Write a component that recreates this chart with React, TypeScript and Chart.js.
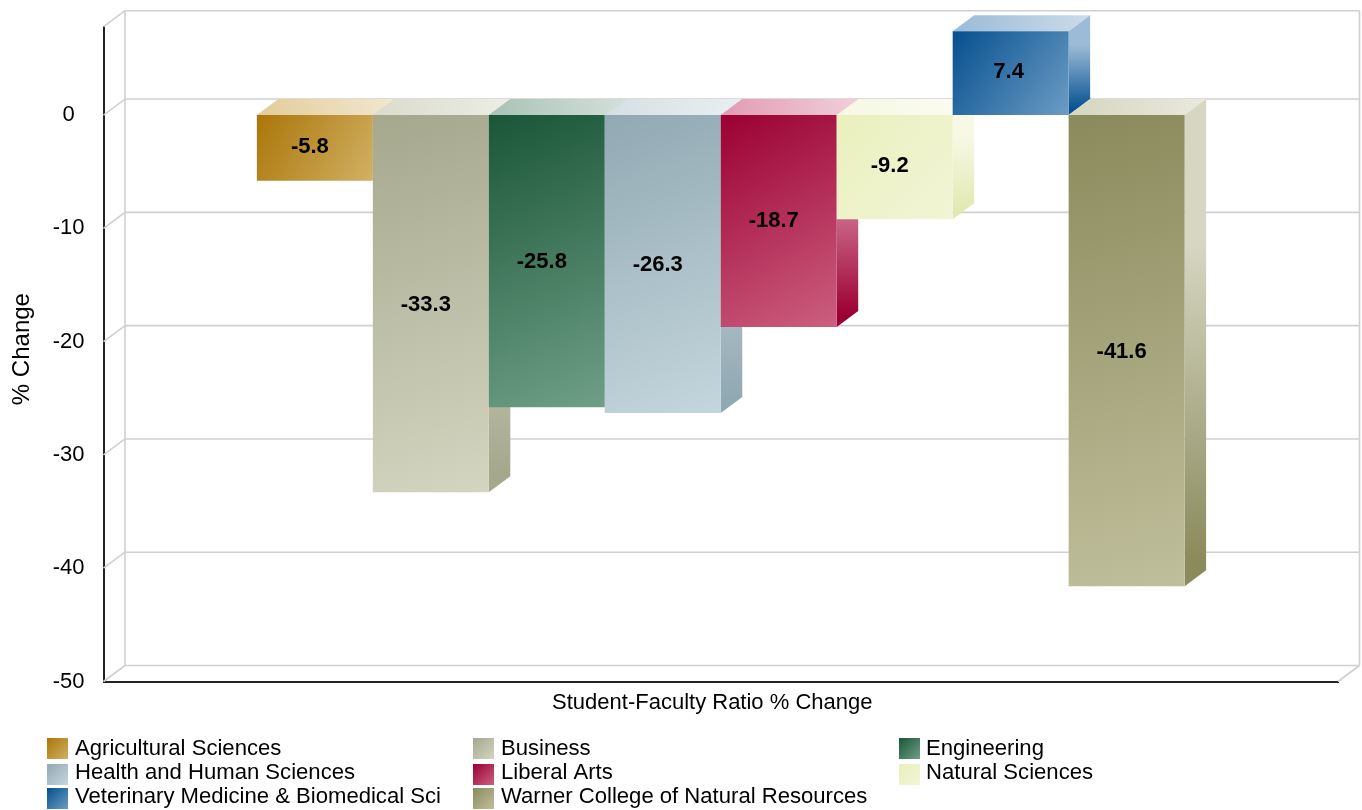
import React, { useEffect, useRef } from "react";
import { Chart, registerables } from "chart.js";

Chart.register(...registerables);

const categories = ["Student-Faculty Ratio % Change"];
const colleges = [
  "Agricultural Sciences",
  "Business",
  "Engineering",
  "Health and Human Sciences",
  "Liberal Arts",
  "Natural Sciences",
  "Veterinary Medicine & Biomedical Sci",
  "Warner College of Natural Resources",
];
const changes = [-5.8, -33.3, -25.8, -26.3, -18.7, -9.2, 7.4, -41.6];
const yTicks = [0, -10, -20, -30, -40, -50];
const xTitle = "Student-Faculty Ratio % Change";
const yTitle = "% Change";

// front-face gradient: start, end
const frontStart = ["#aa7609", "#a5a88d", "#1a5637", "#91a9b3", "#9b0033", "#e9f0bd", "#05508f", "#8a8a5c"];
const frontEnd = ["#d2b064", "#d3d5c0", "#6f9f87", "#c4d6dd", "#cc5f80", "#f2f5d6", "#6c9cc4", "#c0bf9c"];
// top-face gradient: start, end
const topStart = ["#e3cc99", "#dbdccd", "#a9c2b6", "#d5dfe3", "#e29ab2", "#f6f8e3", "#9bbbd6", "#d5d6c0"];
const topEnd = ["#f1e7cf", "#ecede4", "#d3e0da", "#e9eff1", "#f2cfda", "#fbfcf2", "#cbdcea", "#e9e9dd"];
// side-face gradient: top, bottom
const sideTop = ["#e3cc99", "#d8dac8", "#a9c2b6", "#c4d6dd", "#e29ab2", "#f7f9e5", "#9bbbd6", "#d6d6c2"];
const sideBottom = ["#aa7609", "#a5a88d", "#1a5637", "#91a9b3", "#9b0033", "#e2e8b0", "#05508f", "#8a8a5c"];

const FONT = "'Liberation Sans', Arial, sans-serif";
const FONT_SIZE = 22;
const DX = 21.5;
const DY = 16;
const GRID = "#d0d0d0";

function boxGradient(ctx: CanvasRenderingContext2D, x: number, y: number, w: number, h: number, c0: string, c1: string) {
  const g = ctx.createLinearGradient(x, y, x + w, y + h);
  g.addColorStop(0, c0);
  g.addColorStop(1, c1);
  return g;
}

function shiftTitle(scale: any, dx: number, dy: number) {
  if (scale.$shifted) return;
  scale.$shifted = true;
  const orig = scale.drawTitle;
  scale.drawTitle = function (area: any) {
    const ctx = this.ctx;
    ctx.save();
    ctx.translate(dx, dy);
    orig.call(this, area);
    ctx.restore();
  };
}

const poly = (ctx: CanvasRenderingContext2D, pts: number[][], fill: any) => {
  ctx.beginPath();
  pts.forEach((p, i) => (i ? ctx.lineTo(p[0], p[1]) : ctx.moveTo(p[0], p[1])));
  ctx.closePath();
  ctx.fillStyle = fill;
  ctx.fill();
};

const wallsPlugin = {
  id: "walls",
  beforeDatasetsDraw(chart: any) {
    const { ctx, chartArea: a, scales } = chart;
    const y = scales.y;
    ctx.save();
    ctx.strokeStyle = GRID;
    ctx.lineWidth = 1.6;
    const line = (x0: number, y0: number, x1: number, y1: number) => {
      ctx.beginPath();
      ctx.moveTo(x0, y0);
      ctx.lineTo(x1, y1);
      ctx.stroke();
    };
    [...yTicks, y.max].forEach((v) => {
      const py = y.getPixelForValue(v);
      line(a.left, py, a.left + DX, py - DY);
      line(a.left + DX, py - DY, a.right + DX, py - DY);
    });
    line(a.left + DX, a.top - DY, a.left + DX, a.bottom - DY);
    line(a.right + DX, a.top - DY, a.right + DX, a.bottom - DY);
    line(a.right, a.bottom, a.right + DX, a.bottom - DY);
    ctx.restore();
  },
};

const barFacesPlugin = {
  id: "barFaces",
  // Bars are painted left to right, so each one covers the side of the one before it.
  beforeDatasetsDraw(chart: any) {
    const { ctx } = chart;
    chart.data.datasets.forEach((ds: any, i: number) => {
      chart.getDatasetMeta(i).data.forEach((el: any) => {
        const x0 = el.x - el.width / 2;
        const x1 = el.x + el.width / 2;
        const top = Math.min(el.y, el.base);
        const bottom = Math.max(el.y, el.base);
        const h = bottom - top;
        const topGrad = ctx.createLinearGradient(x0, 0, x1 + DX, 0);
        topGrad.addColorStop(0, topStart[i]);
        topGrad.addColorStop(1, topEnd[i]);
        poly(ctx, [[x0, top], [x1, top], [x1 + DX, top - DY], [x0 + DX, top - DY]], topGrad);
        const sideGrad = ctx.createLinearGradient(0, top - DY, 0, bottom);
        sideGrad.addColorStop(0, sideTop[i]);
        sideGrad.addColorStop(0.3, sideTop[i]);
        sideGrad.addColorStop(0.95, sideBottom[i]);
        sideGrad.addColorStop(1, sideBottom[i]);
        poly(ctx, [[x1, top], [x1 + DX, top - DY], [x1 + DX, bottom - DY], [x1, bottom]], sideGrad);
        el.options.backgroundColor = boxGradient(ctx, x0, top, el.width, h, frontStart[i], frontEnd[i]);
        el.draw(ctx);
      });
    });
    ctx.save();
    ctx.font = `bold ${FONT_SIZE}px ${FONT}`;
    ctx.fillStyle = "#000";
    ctx.textAlign = "center";
    ctx.textBaseline = "middle";
    chart.data.datasets.forEach((ds: any, i: number) => {
      const el = chart.getDatasetMeta(i).data[0];
      const v = ds.data[0];
      const cy = (el.y + el.base) / 2 + Math.abs(el.y - el.base) * 0.0065;
      ctx.fillText(v.toFixed(1), el.x + (v < 0 ? -5 : -2), cy - 1.5);
    });
    ctx.restore();
    return false;
  },
};

const legendX = [47, 473, 899];
const legendY = [738, 764, 788];
const legendTextY = [748.5, 772.5, 796.5];

const legendPlugin = {
  id: "sideLegend",
  afterDraw(chart: any) {
    const { ctx } = chart;
    ctx.save();
    ctx.font = `22.1px ${FONT}`;
    ctx.textAlign = "left";
    ctx.textBaseline = "middle";
    chart.data.datasets.forEach((ds: any, i: number) => {
      const x = legendX[i % 3];
      const row = Math.floor(i / 3);
      const y = legendY[row];
      ctx.fillStyle = boxGradient(ctx, x, y, 21, 21, frontStart[i], frontEnd[i]);
      ctx.fillRect(x, y, 21, 21);
      ctx.fillStyle = "#000";
      ctx.fillText(ds.label, x + (i % 3 === 2 ? 27 : 28), legendTextY[row]);
    });
    ctx.restore();
  },
};

export default function App() {
  const ref = useRef<HTMLCanvasElement>(null);
  useEffect(() => {
    const chart = new Chart(ref.current!, {
      type: "bar",
      data: {
        labels: categories,
        datasets: colleges.map((label, i) => ({
          label,
          data: [changes[i]],
          backgroundColor: frontStart[i],
          categoryPercentage: 0.7515,
          barPercentage: 1,
          borderWidth: 0,
        })),
      },
      options: {
        responsive: false,
        animation: false,
        layout: { autoPadding: false, padding: { top: 26.7, right: 24, left: 0, bottom: 0 } },
        plugins: { legend: { display: false }, tooltip: { enabled: false } },
        scales: {
          x: {
            grid: { display: false, drawTicks: false },
            border: { display: true, color: "#222", width: 2 },
            ticks: { display: false },
            title: { display: true, text: xTitle, color: "#000", font: { family: FONT, size: FONT_SIZE }, padding: 0 },
            afterFit(s: any) {
              s.height = 128.5;
              s.paddingTop = 0;
              s.paddingBottom = 0;
              s.paddingRight = 0;
              s.paddingLeft = 0;
              shiftTitle(s, -8.5, -94);
            },
          },
          y: {
            min: -50,
            max: 7.8,
            grid: { display: false, drawTicks: false },
            border: { display: true, color: "#222", width: 2 },
            afterBuildTicks(s: any) {
              s.ticks = yTicks.map((value) => ({ value }));
            },
            ticks: {
              color: "#000",
              font: { family: FONT, size: FONT_SIZE },
              padding: 19,
              crossAlign: "center",
              labelOffset: 0,
              autoSkip: false,
            },
            title: { display: true, text: yTitle, color: "#000", font: { family: FONT, size: 24 }, padding: 0 },
            afterFit(s: any) {
              s.width = 103.5;
              s.paddingTop = 0;
              s.paddingBottom = 0;
              shiftTitle(s, 8, -5);
            },
          },
        },
      } as any,
      plugins: [wallsPlugin, barFacesPlugin, legendPlugin],
    });
    return () => chart.destroy();
  }, []);
  return (
    <div style={{ position: "absolute", left: 0, top: 0 }}>
      <canvas ref={ref} width={1362} height={810} style={{ display: "block" }} />
    </div>
  );
}
